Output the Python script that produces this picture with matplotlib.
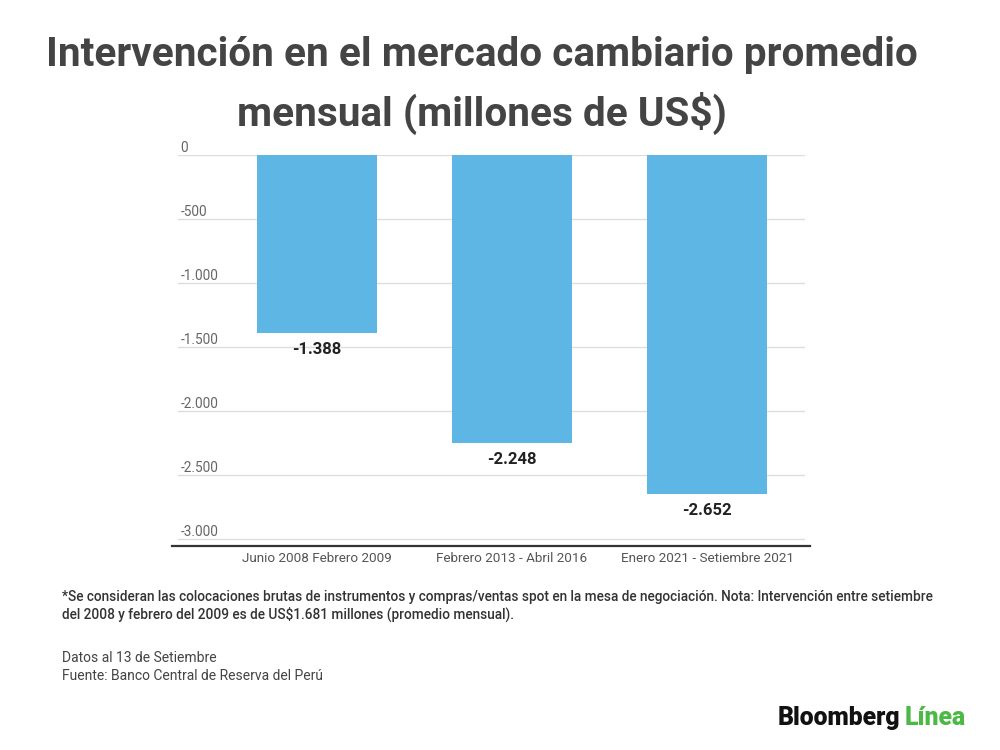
import matplotlib
matplotlib.use("Agg")
import matplotlib.pyplot as plt
from matplotlib import transforms

plt.rcParams['font.family'] = ['Roboto', 'DejaVu Sans']

categories = ["Junio 2008 Febrero 2009", "Febrero 2013 - Abril 2016", "Enero 2021 - Setiembre 2021"]
values = [-1388, -2248, -2652]
value_labels = ["-1.388", "-2.248", "-2.652"]
yticks = [0, -500, -1000, -1500, -2000, -2500, -3000]
ytick_labels = ["0", "-500", "-1.000", "-1.500", "-2.000", "-2.500", "-3.000"]

title = "Intervención en el mercado cambiario promedio\nmensual (millones de US$)"
note = ("*Se consideran las colocaciones brutas de instrumentos y compras/ventas spot en la mesa de negociación. Nota: Intervención entre setiembre\n"
        "del 2008 y febrero del 2009 es de US$1.681 millones (promedio mensual).")
source = "Datos al 13 de Setiembre\nFuente: Banco Central de Reserva del Perú"

fig = plt.figure(figsize=(10, 7.5), dpi=100)
ax = fig.add_axes([0.178, 0.272, 0.627, 0.5213])

x = list(range(len(categories)))
bars = ax.bar(x, values, width=0.615, color="#5DB6E4", zorder=2)
ax.set_xlim(-0.71, 2.5)
ax.set_ylim(-3055, 0)

ax.set_yticks(yticks)
ax.yaxis.grid(True, color="#dddddd", linewidth=1, zorder=0)
ax.tick_params(axis='y', length=0, labelleft=False)
ytrans = ax.get_yaxis_transform()
for v, lab in zip(yticks, ytick_labels):
    ax.text(0.004, v + 2, lab, transform=ytrans, ha='left', va='bottom',
            fontsize=9.8, color="#666666")

ax.set_xticks(x)
ax.set_xticklabels(categories, fontsize=9.7, color="#555555")
ax.tick_params(axis='x', length=0, pad=4.5)

for s in ax.spines.values():
    s.set_visible(False)
ax.axhline(-3055, xmin=-0.01, xmax=1.008, color="#333333", linewidth=1.6, clip_on=False, zorder=3)

offset = transforms.offset_copy(ax.transData, fig=fig, x=0, y=-9, units='dots')
for xi, v, lab in zip(x, values, value_labels):
    ax.text(xi, v, lab, transform=offset, ha='center', va='top',
            fontsize=12, fontweight='bold', color="#222222")

fig.text(0.482, 0.886, title, ha='center', va='center', fontsize=29.2,
         fontweight='bold', color="#444444", linespacing=1.55)

fig.text(0.062, 0.192, note, ha='left', va='center', fontsize=9.85,
         fontweight='medium', color="#333333", linespacing=1.3)
fig.text(0.062, 0.111, source, ha='left', va='center', fontsize=10,
         color="#444444", linespacing=1.35)

t1 = fig.text(0.778, 0.043, "Bloomberg", ha='left', va='center', fontsize=17.8,
              fontweight='heavy', color="#111111")
fig.canvas.draw()
bb = t1.get_window_extent()
fig.text((bb.x1 + 4) / fig.bbox.width, 0.043, "Línea", ha='left', va='center',
         fontsize=17.8, fontweight='heavy', color="#4CB944")

fig.savefig("out.png", dpi=100, facecolor="white")
